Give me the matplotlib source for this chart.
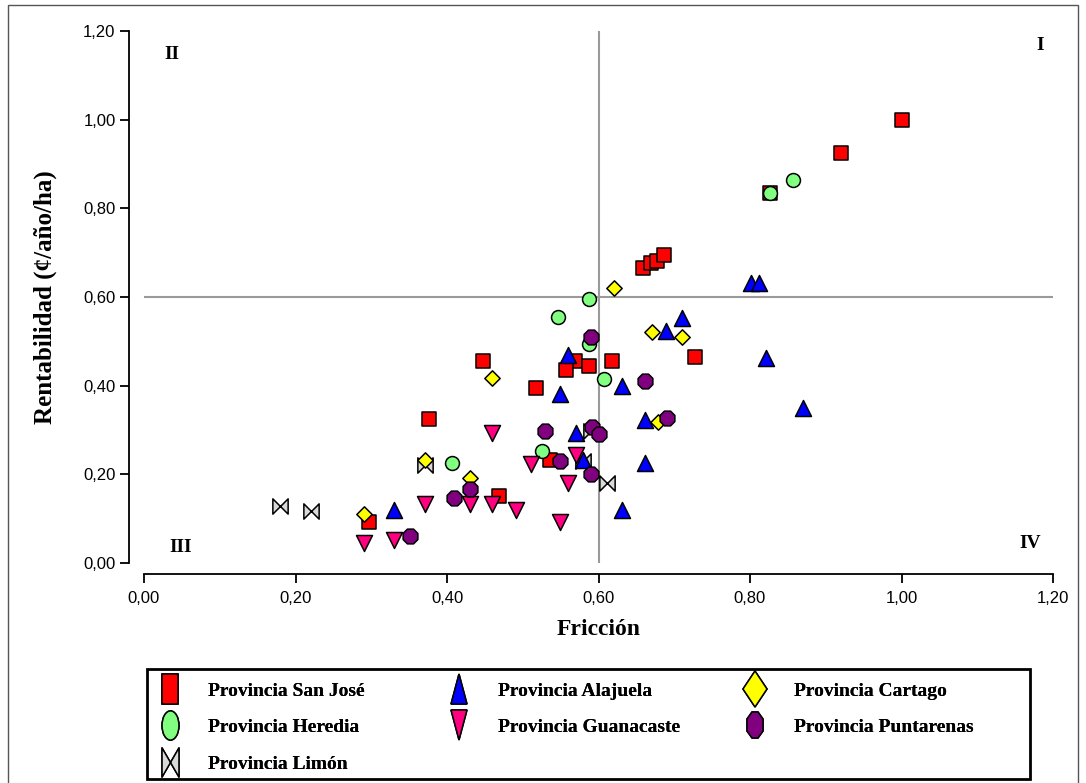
import matplotlib
matplotlib.use("Agg")
import matplotlib.pyplot as plt
from matplotlib.lines import Line2D
from matplotlib.markers import MarkerStyle
from matplotlib.path import Path
from matplotlib.patches import Rectangle
from matplotlib.ticker import FuncFormatter, MultipleLocator
from matplotlib.transforms import Affine2D

# ─── Data: friction vs. profitability per province ──────────────────────────

san_jose_x = [1.00, 0.92, 0.826, 0.659, 0.669, 0.677, 0.686, 0.727, 0.618, 0.569,
              0.557, 0.587, 0.518, 0.448, 0.376, 0.536, 0.468, 0.297]
san_jose_y = [1.00, 0.925, 0.835, 0.665, 0.677, 0.681, 0.695, 0.464, 0.456, 0.456,
              0.435, 0.444, 0.394, 0.456, 0.324, 0.232, 0.152, 0.093]

alajuela_x = [0.801, 0.812, 0.710, 0.689, 0.821, 0.870, 0.631, 0.661, 0.560, 0.549,
              0.570, 0.579, 0.661, 0.631, 0.330]
alajuela_y = [0.631, 0.631, 0.552, 0.524, 0.462, 0.350, 0.400, 0.323, 0.469, 0.381,
              0.293, 0.232, 0.225, 0.120, 0.120]

cartago_x = [0.620, 0.671, 0.710, 0.678, 0.460, 0.371, 0.430, 0.290]
cartago_y = [0.620, 0.522, 0.509, 0.319, 0.418, 0.232, 0.191, 0.111]

heredia_x = [0.857, 0.826, 0.587, 0.547, 0.587, 0.607, 0.526, 0.407]
heredia_y = [0.864, 0.835, 0.596, 0.554, 0.494, 0.415, 0.253, 0.226]

guanacaste_x = [0.460, 0.511, 0.570, 0.560, 0.549, 0.371, 0.430, 0.460, 0.491, 0.290, 0.330]
guanacaste_y = [0.293, 0.223, 0.244, 0.181, 0.093, 0.133, 0.133, 0.133, 0.120, 0.044, 0.052]

puntarenas_x = [0.590, 0.661, 0.690, 0.529, 0.591, 0.601, 0.549, 0.590, 0.430, 0.409, 0.351]
puntarenas_y = [0.509, 0.411, 0.328, 0.298, 0.307, 0.291, 0.229, 0.201, 0.168, 0.147, 0.061]

limon_x = [0.180, 0.220, 0.371, 0.590, 0.580, 0.611]
limon_y = [0.129, 0.118, 0.221, 0.298, 0.229, 0.180]

quadrants = ["I", "II", "III", "IV"]

# bow-tie marker (two triangles meeting at the centre)
BOWTIE = Path([(-1, -1), (-1, 1), (1, -1), (1, 1), (-1, -1)],
              [Path.MOVETO, Path.LINETO, Path.LINETO, Path.LINETO, Path.CLOSEPOLY])

# name, x, y, marker, colour, size (pt), zorder
series = [
    ("Provincia San José", san_jose_x, san_jose_y, "s", "#ff0000", 10.5, 3),
    ("Provincia Heredia", heredia_x, heredia_y, "o", "#80ff80", 10, 4),
    ("Provincia Limón", limon_x, limon_y, BOWTIE, "#d9d9d9", 11, 5),
    ("Provincia Alajuela", alajuela_x, alajuela_y, "^", "#0000ff", 11.5, 6),
    ("Provincia Guanacaste", guanacaste_x, guanacaste_y, "v", "#ff0080", 11.5, 7),
    ("Provincia Cartago", cartago_x, cartago_y, "D", "#ffff00", 7.8, 5.5),
    ("Provincia Puntarenas", puntarenas_x, puntarenas_y, "8", "#800080", 11.5, 8),
]

SERIF = "Liberation Serif"
SANS = "Liberation Sans"
W, H = 1086, 783

fig = plt.figure(figsize=(W / 100, H / 100), dpi=100)
ax = fig.add_axes([144 / W, 1 - 563 / H, 909 / W, 532 / H])

for name, xs, ys, marker, color, size, z in series:
    ax.scatter(xs, ys, marker=marker, s=size ** 2, facecolor=color,
               edgecolor="black", linewidth=1.1, zorder=z, clip_on=False)

# quadrant dividers
ax.axvline(0.6, color="#9a9a9a", lw=1.5, zorder=1)
ax.axhline(0.6, color="#9a9a9a", lw=1.5, zorder=1)

qfont = dict(family=SERIF, fontweight="bold", fontsize=14)
ax.text(1.183, 1.168, quadrants[0], ha="center", va="center", **qfont)
ax.text(0.037, 1.146, quadrants[1], ha="center", va="center", **qfont)
ax.text(0.048, 0.034, quadrants[2], ha="center", va="center", **qfont)
ax.text(1.170, 0.045, quadrants[3], ha="center", va="center", **qfont)

ax.set_xlim(0, 1.2)
ax.set_ylim(0, 1.2)
ax.xaxis.set_major_locator(MultipleLocator(0.2))
ax.yaxis.set_major_locator(MultipleLocator(0.2))
comma = FuncFormatter(lambda v, _: f"{v:.2f}".replace(".", ","))
ax.xaxis.set_major_formatter(comma)
ax.yaxis.set_major_formatter(comma)

for side in ("top", "right"):
    ax.spines[side].set_visible(False)
ax.spines["left"].set_position(("outward", 11))
ax.spines["bottom"].set_position(("outward", 8))
for side in ("left", "bottom"):
    ax.spines[side].set_linewidth(1.3)

ax.tick_params(axis="both", direction="out", length=6.5, width=1.3,
               labelsize=12, colors="black")
ax.tick_params(axis="x", pad=6)
ax.tick_params(axis="y", pad=3)
for lab in ax.get_xticklabels() + ax.get_yticklabels():
    lab.set_fontfamily(SANS)

ax.set_xlabel("Fricción", family=SERIF, fontweight="bold", fontsize=17, labelpad=9)
ax.set_ylabel("Rentabilidad (¢/año/ha)", family=SERIF, fontweight="bold",
              fontsize=18, labelpad=19)

# legend: three columns of tall, narrow markers inside one framed box
handles = {}
for name, xs, ys, marker, color, size, z in series:
    squash = 0.7 if marker == "D" else 0.58
    ms = MarkerStyle(marker, transform=Affine2D().scale(squash, 1))
    msize = 18 if marker == "D" else 21
    handles[name] = Line2D([], [], linestyle="none", marker=ms, markersize=msize,
                           markerfacecolor=color, markeredgecolor="black",
                           markeredgewidth=1.1, label=name)

columns = [
    ["Provincia San José", "Provincia Heredia", "Provincia Limón"],
    ["Provincia Alajuela", "Provincia Guanacaste"],
    ["Provincia Cartago", "Provincia Puntarenas"],
]
col_left = [156, 445, 741]
for names, x0 in zip(columns, col_left):
    leg = fig.legend(handles=[handles[n] for n in names], loc="upper left",
                     bbox_to_anchor=(x0 / W, 1 - 682 / H), borderaxespad=0,
                     borderpad=0, frameon=False,
                     prop=dict(family=SERIF, weight="bold", size=14),
                     handlelength=1.4, handletextpad=1.3, labelspacing=0.98)
    fig.add_artist(leg)

fig.patches.append(Rectangle((147 / W, 1 - 779 / H), 883 / W, 110 / H,
                             transform=fig.transFigure, fill=False,
                             edgecolor="black", lw=2))

# thin outer border round the figure
fig.patches.append(Rectangle((8 / W, -0.05), 1070 / W, 1.05 - 5 / H,
                             transform=fig.transFigure, fill=False,
                             edgecolor="#555555", lw=1))

fig.savefig("out.png", dpi=100)
